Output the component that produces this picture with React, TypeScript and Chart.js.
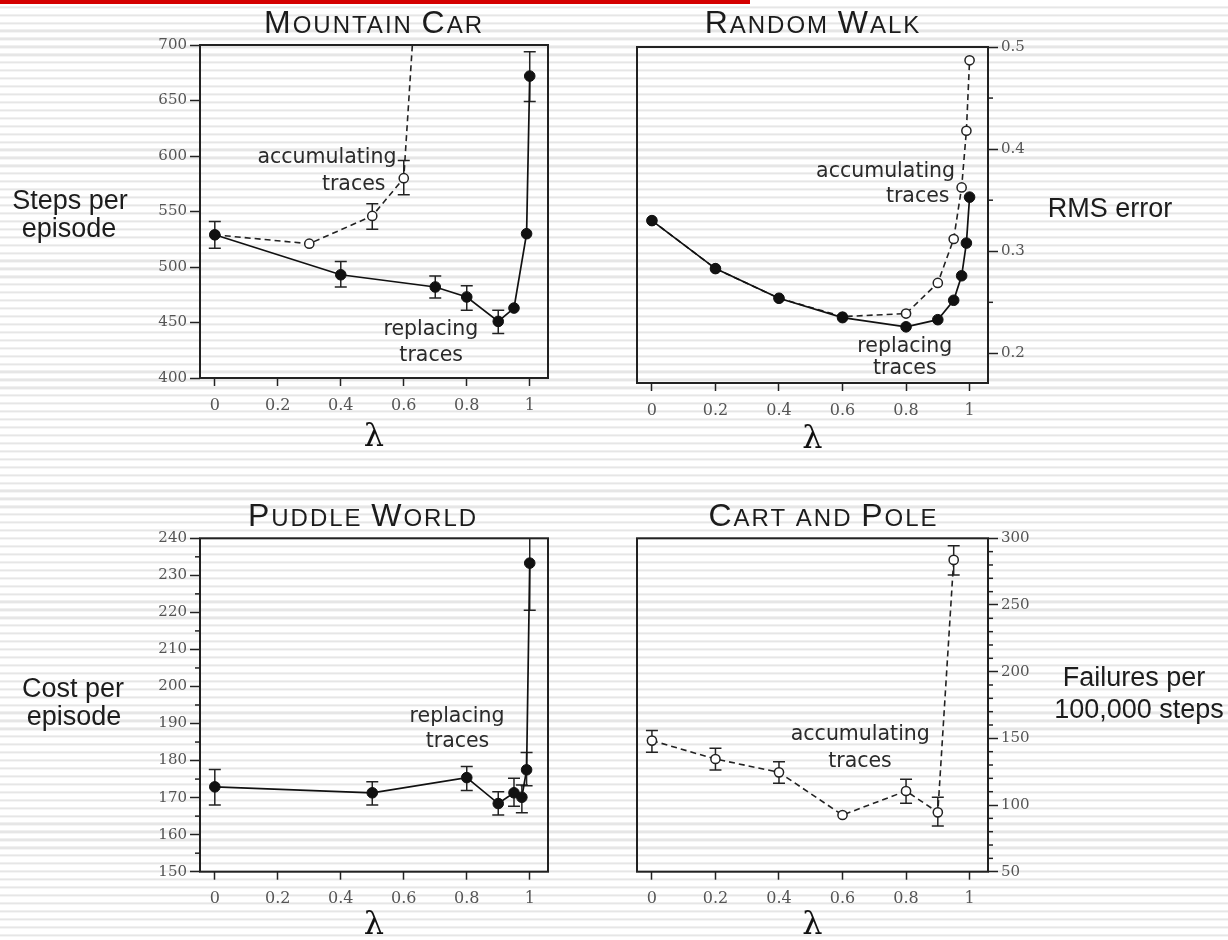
import React, { useEffect, useRef } from 'react';
import { Chart, registerables } from 'chart.js';

Chart.register(...registerables);

// ---------------- Data ----------------
const xTicks = [0, 0.2, 0.4, 0.6, 0.8, 1];

// Mountain Car
const mcLambdaReplacing = [0, 0.4, 0.7, 0.8, 0.9, 0.95, 0.99, 1];
const mcStepsReplacing = [529, 493, 482, 473, 451, 463, 530, 672];
const mcReplacingLow = [517, 482, 472, 461, 440, null, null, 649];
const mcReplacingHigh = [541, 505, 492, 483, 461, null, null, 694];
const mcLambdaAccumulating = [0, 0.3, 0.5, 0.6, 0.7];
const mcStepsAccumulating = [529, 521, 546, 580, 1020];
const mcAccumulatingLow = [null, null, 534, 565, null];
const mcAccumulatingHigh = [null, null, 557, 596, null];
const mcYTicks = [400, 450, 500, 550, 600, 650, 700];

// Random Walk
const rwLambda = [0, 0.2, 0.4, 0.6, 0.8, 0.9, 0.95, 0.975, 0.99, 1];
const rwErrorReplacing = [0.33, 0.283, 0.254, 0.235, 0.226, 0.233, 0.252, 0.276, 0.308, 0.353];
const rwErrorAccumulating = [0.33, 0.283, 0.254, 0.236, 0.239, 0.269, 0.312, 0.3625, 0.418, 0.487];
const rwYTicks = [0.2, 0.3, 0.4, 0.5];
const rwYMinorTicks = [0.25, 0.35, 0.45];

// Puddle World
const pwLambda = [0, 0.5, 0.8, 0.9, 0.95, 0.975, 0.99, 1];
const pwCostReplacing = [172.9, 171.3, 175.4, 168.4, 171.3, 170.1, 177.5, 233.3];
const pwReplacingLow = [168, 168, 171.9, 165.3, 167.7, 165.9, 173.2, 220.6];
const pwReplacingHigh = [177.6, 174.3, 178.4, 171.6, 175.2, 173.4, 182.2, 246];
const pwYTicks = [150, 160, 170, 180, 190, 200, 210, 220, 230, 240];
const pwYMinorTicks = [155, 165, 175, 185, 195, 205, 215, 225, 235];

// Cart and Pole
const cpLambda = [0, 0.2, 0.4, 0.6, 0.8, 0.9, 0.95];
const cpFailuresAccumulating = [148.3, 134.5, 124.5, 92.5, 110.5, 94.5, 283.8];
const cpAccumulatingLow = [139.5, 126.3, 116.3, null, 101.3, 84.3, 272.5];
const cpAccumulatingHigh = [155.8, 142.5, 132.5, null, 119.3, 105.8, 294.5];
const cpYTicks = [50, 100, 150, 200, 250, 300];
const cpYMinorTicks = [60, 70, 80, 90, 110, 120, 130, 140, 160, 170, 180, 190, 210, 220, 230, 240, 260, 270, 280, 290];

// ---------------- Styling ----------------
const FONT_SANS = '"Liberation Sans", Arial, sans-serif';
const FONT_NOTE = '"DejaVu Sans", Verdana, sans-serif';
const FONT_SERIF = '"DejaVu Serif", serif';
const INK = '#1c1c1c';

type Num = number | null;
type Series = { xs: number[]; ys: number[]; low?: Num[]; high?: Num[]; filled: boolean };
type TextItem = { text: string; x: number; y: number };
type Spec = {
  key: string;
  left: number; top: number; w: number; h: number;
  pad: { left: number; right: number; top: number; bottom: number };
  xH: number; yW: number;
  yPos: 'left' | 'right';
  xMin: number; xMax: number;
  yMin: number; yMax: number;
  yTicks: number[]; yMinor: number[];
  series: Series[];
  title: string; titleX: number; titleY: number;
  side: TextItem[];
  notes: TextItem[];
};

function drawSmallCaps(ctx: CanvasRenderingContext2D, text: string, cx: number, baseline: number) {
  const big = 32, small = 24, spacing = 2;
  const runs: { t: string; size: number }[] = [];
  for (const ch of text) {
    const isBig = ch !== ' ' && ch === ch.toUpperCase();
    const size = isBig ? big : small;
    const last = runs[runs.length - 1];
    if (last && last.size === size) last.t += ch.toUpperCase();
    else runs.push({ t: ch.toUpperCase(), size });
  }
  ctx.save();
  (ctx as any).letterSpacing = spacing + 'px';
  let total = 0;
  const widths = runs.map((r) => {
    ctx.font = `${r.size}px ${FONT_SANS}`;
    const w = ctx.measureText(r.t).width;
    total += w;
    return w;
  });
  total -= spacing;
  let x = cx - total / 2;
  ctx.textAlign = 'left';
  ctx.textBaseline = 'alphabetic';
  ctx.fillStyle = INK;
  runs.forEach((r, i) => {
    ctx.font = `${r.size}px ${FONT_SANS}`;
    ctx.fillText(r.t, x, baseline);
    x += widths[i];
  });
  ctx.restore();
}

function makePlugin(spec: Spec) {
  return {
    id: 'figure_' + spec.key,
    beforeDatasetsDraw(chart: any) {
      const { ctx, chartArea } = chart;
      const xs = chart.scales.x, ys = chart.scales.y;
      ctx.save();
      ctx.beginPath();
      ctx.rect(chartArea.left, chartArea.top, chartArea.right - chartArea.left, chartArea.bottom - chartArea.top);
      ctx.clip();
      ctx.strokeStyle = '#222';
      ctx.lineWidth = 1.5;
      for (const s of spec.series) {
        if (!s.low || !s.high) continue;
        s.xs.forEach((xv, i) => {
          const lo = s.low![i], hi = s.high![i];
          if (lo == null || hi == null) return;
          const px = xs.getPixelForValue(xv);
          const pl = ys.getPixelForValue(lo);
          const ph = ys.getPixelForValue(hi);
          ctx.beginPath();
          ctx.moveTo(px, pl); ctx.lineTo(px, ph);
          ctx.moveTo(px - 6, pl); ctx.lineTo(px + 6, pl);
          ctx.moveTo(px - 6, ph); ctx.lineTo(px + 6, ph);
          ctx.stroke();
        });
      }
      ctx.restore();
    },
    afterDraw(chart: any) {
      const { ctx, chartArea } = chart;
      const xs = chart.scales.x, ys = chart.scales.y;
      ctx.save();
      // frame
      ctx.strokeStyle = '#222';
      ctx.lineWidth = 2;
      ctx.strokeRect(chartArea.left, chartArea.top, chartArea.right - chartArea.left, chartArea.bottom - chartArea.top);
      // minor ticks
      ctx.lineWidth = 1.5;
      for (const v of spec.yMinor) {
        const py = ys.getPixelForValue(v);
        ctx.beginPath();
        if (spec.yPos === 'left') { ctx.moveTo(chartArea.left - 5, py); ctx.lineTo(chartArea.left, py); }
        else { ctx.moveTo(chartArea.right, py); ctx.lineTo(chartArea.right + 5, py); }
        ctx.stroke();
      }
      // title
      drawSmallCaps(ctx, spec.title, spec.titleX, spec.titleY);
      // side label
      ctx.fillStyle = INK;
      ctx.font = `27px ${FONT_SANS}`;
      ctx.textAlign = 'center';
      ctx.textBaseline = 'alphabetic';
      for (const t of spec.side) ctx.fillText(t.text, t.x, t.y);
      // notes in data coordinates
      ctx.fillStyle = '#2a2a2a';
      ctx.font = `20.5px ${FONT_NOTE}`;
      for (const n of spec.notes) ctx.fillText(n.text, xs.getPixelForValue(n.x), ys.getPixelForValue(n.y));
      ctx.restore();
    },
  };
}

function buildConfig(spec: Spec): any {
  const datasets = spec.series.map((s) => {
    const data = s.xs.map((x, i) => ({ x, y: s.ys[i] }));
    const common = { data, showLine: true, tension: 0, clip: 1 };
    return s.filled
      ? { ...common, borderColor: '#111', borderWidth: 1.7, pointRadius: 5.3, pointBackgroundColor: '#111', pointBorderColor: '#111', pointBorderWidth: 1 }
      : { ...common, borderColor: '#222', borderWidth: 1.6, borderDash: [6, 4], pointRadius: 4.6, pointBackgroundColor: '#fff', pointBorderColor: '#222', pointBorderWidth: 1.5 };
  });
  return {
    type: 'line',
    data: { datasets },
    plugins: [makePlugin(spec)],
    options: {
      responsive: false,
      animation: false,
      events: [],
      layout: { padding: spec.pad },
      plugins: { legend: { display: false }, tooltip: { enabled: false }, title: { display: false } },
      scales: {
        x: {
          type: 'linear',
          position: 'bottom',
          min: spec.xMin,
          max: spec.xMax,
          afterBuildTicks: (scale: any) => { scale.ticks = xTicks.map((v) => ({ value: v })); },
          afterFit: (scale: any) => { scale.height = spec.xH; },
          border: { display: false },
          grid: { display: true, drawOnChartArea: false, drawTicks: true, tickLength: 8, tickWidth: 1.5, tickColor: '#222' },
          ticks: { autoSkip: false, maxRotation: 0, padding: 10, color: '#555', font: { family: FONT_SERIF, size: 16 }, callback: (v: any) => String(v) },
          title: { display: true, text: 'λ', color: '#111', padding: 0, font: { family: FONT_SERIF, size: 32, lineHeight: 0.8 } },
        },
        y: {
          type: 'linear',
          position: spec.yPos,
          min: spec.yMin,
          max: spec.yMax,
          afterBuildTicks: (scale: any) => { scale.ticks = spec.yTicks.map((v) => ({ value: v })); },
          afterFit: (scale: any) => { scale.width = spec.yW; },
          border: { display: false },
          grid: { display: true, drawOnChartArea: false, drawTicks: true, tickLength: 10, tickWidth: 1.5, tickColor: '#222' },
          ticks: { autoSkip: false, padding: 3, color: '#555', font: { family: FONT_SERIF, size: 15 }, callback: (v: any) => String(v) },
          title: { display: false },
        },
      },
    },
  };
}

const XMIN = -0.047;
const XMAX = 1.058;

const specs: Spec[] = [
  {
    key: 'mc', left: 0, top: 0, w: 614, h: 470,
    pad: { left: 150, right: 66, top: 45, bottom: 19.2 }, xH: 72.8, yW: 50, yPos: 'left',
    xMin: XMIN, xMax: XMAX, yMin: 400, yMax: 700, yTicks: mcYTicks, yMinor: [],
    series: [
      { xs: mcLambdaReplacing, ys: mcStepsReplacing, low: mcReplacingLow, high: mcReplacingHigh, filled: true },
      { xs: mcLambdaAccumulating, ys: mcStepsAccumulating, low: mcAccumulatingLow, high: mcAccumulatingHigh, filled: false },
    ],
    title: 'Mountain Car', titleX: 373, titleY: 33,
    side: [{ text: 'Steps per', x: 70, y: 209 }, { text: 'episode', x: 69, y: 237 }],
    notes: [
      { text: 'accumulating', x: 0.356, y: 594 },
      { text: 'traces', x: 0.441, y: 569.5 },
      { text: 'replacing', x: 0.686, y: 439 },
      { text: 'traces', x: 0.687, y: 415 },
    ],
  },
  {
    key: 'rw', left: 614, top: 0, w: 614, h: 470,
    pad: { left: 23, right: 190, top: 47, bottom: 17.2 }, xH: 69.8, yW: 50, yPos: 'right',
    xMin: XMIN, xMax: XMAX, yMin: 0.171, yMax: 0.5, yTicks: rwYTicks, yMinor: rwYMinorTicks,
    series: [
      { xs: rwLambda, ys: rwErrorReplacing, filled: true },
      { xs: rwLambda, ys: rwErrorAccumulating, filled: false },
    ],
    title: 'Random Walk', titleX: 198, titleY: 33,
    side: [{ text: 'RMS error', x: 496, y: 217 }],
    notes: [
      { text: 'accumulating', x: 0.7356, y: 0.3726 },
      { text: 'traces', x: 0.8366, y: 0.3481 },
      { text: 'replacing', x: 0.796, y: 0.2014 },
      { text: 'traces', x: 0.796, y: 0.1802 },
    ],
  },
  {
    key: 'pw', left: 0, top: 470, w: 614, h: 470,
    pad: { left: 150, right: 66, top: 68.3, bottom: 1.2 }, xH: 67.1, yW: 50, yPos: 'left',
    xMin: XMIN, xMax: XMAX, yMin: 150, yMax: 240, yTicks: pwYTicks, yMinor: pwYMinorTicks,
    series: [
      { xs: pwLambda, ys: pwCostReplacing, low: pwReplacingLow, high: pwReplacingHigh, filled: true },
    ],
    title: 'Puddle World', titleX: 362, titleY: 56,
    side: [{ text: 'Cost per', x: 73, y: 227 }, { text: 'episode', x: 74, y: 255 }],
    notes: [
      { text: 'replacing', x: 0.769, y: 190.5 },
      { text: 'traces', x: 0.7706, y: 183.7 },
    ],
  },
  {
    key: 'cp', left: 614, top: 470, w: 614, h: 470,
    pad: { left: 23, right: 190, top: 68.3, bottom: 1.2 }, xH: 67.1, yW: 50, yPos: 'right',
    xMin: XMIN, xMax: XMAX, yMin: 50, yMax: 300, yTicks: cpYTicks, yMinor: cpYMinorTicks,
    series: [
      { xs: cpLambda, ys: cpFailuresAccumulating, low: cpAccumulatingLow, high: cpAccumulatingHigh, filled: false },
    ],
    title: 'Cart and Pole', titleX: 208.5, titleY: 56,
    side: [{ text: 'Failures per', x: 520, y: 216 }, { text: '100,000 steps', x: 525, y: 248 }],
    notes: [
      { text: 'accumulating', x: 0.656, y: 148.7 },
      { text: 'traces', x: 0.655, y: 128.7 },
    ],
  },
];

function FigureChart({ spec }: { spec: Spec }) {
  const ref = useRef<HTMLCanvasElement>(null);
  useEffect(() => {
    if (!ref.current) return;
    const chart = new Chart(ref.current, buildConfig(spec));
    return () => chart.destroy();
  }, [spec]);
  return (
    <canvas
      ref={ref}
      width={spec.w}
      height={spec.h}
      style={{ position: 'absolute', left: spec.left, top: spec.top, width: spec.w, height: spec.h }}
    />
  );
}

export default function App() {
  return (
    <div
      style={{
        position: 'absolute',
        left: 0,
        top: 0,
        width: 1228,
        height: 940,
        overflow: 'hidden',
        backgroundColor: '#ffffff',
        backgroundImage: 'repeating-linear-gradient(to bottom, #ffffff 0px, #ffffff 5.7px, #e6e6e6 5.7px, #e6e6e6 7.93px)',
        backgroundPosition: '0 0.4px',
      }}
    >
      <div style={{ position: 'absolute', left: 0, top: 0, width: 750, height: 4, background: '#d40000' }} />
      {specs.map((s) => (
        <FigureChart key={s.key} spec={s} />
      ))}
    </div>
  );
}
